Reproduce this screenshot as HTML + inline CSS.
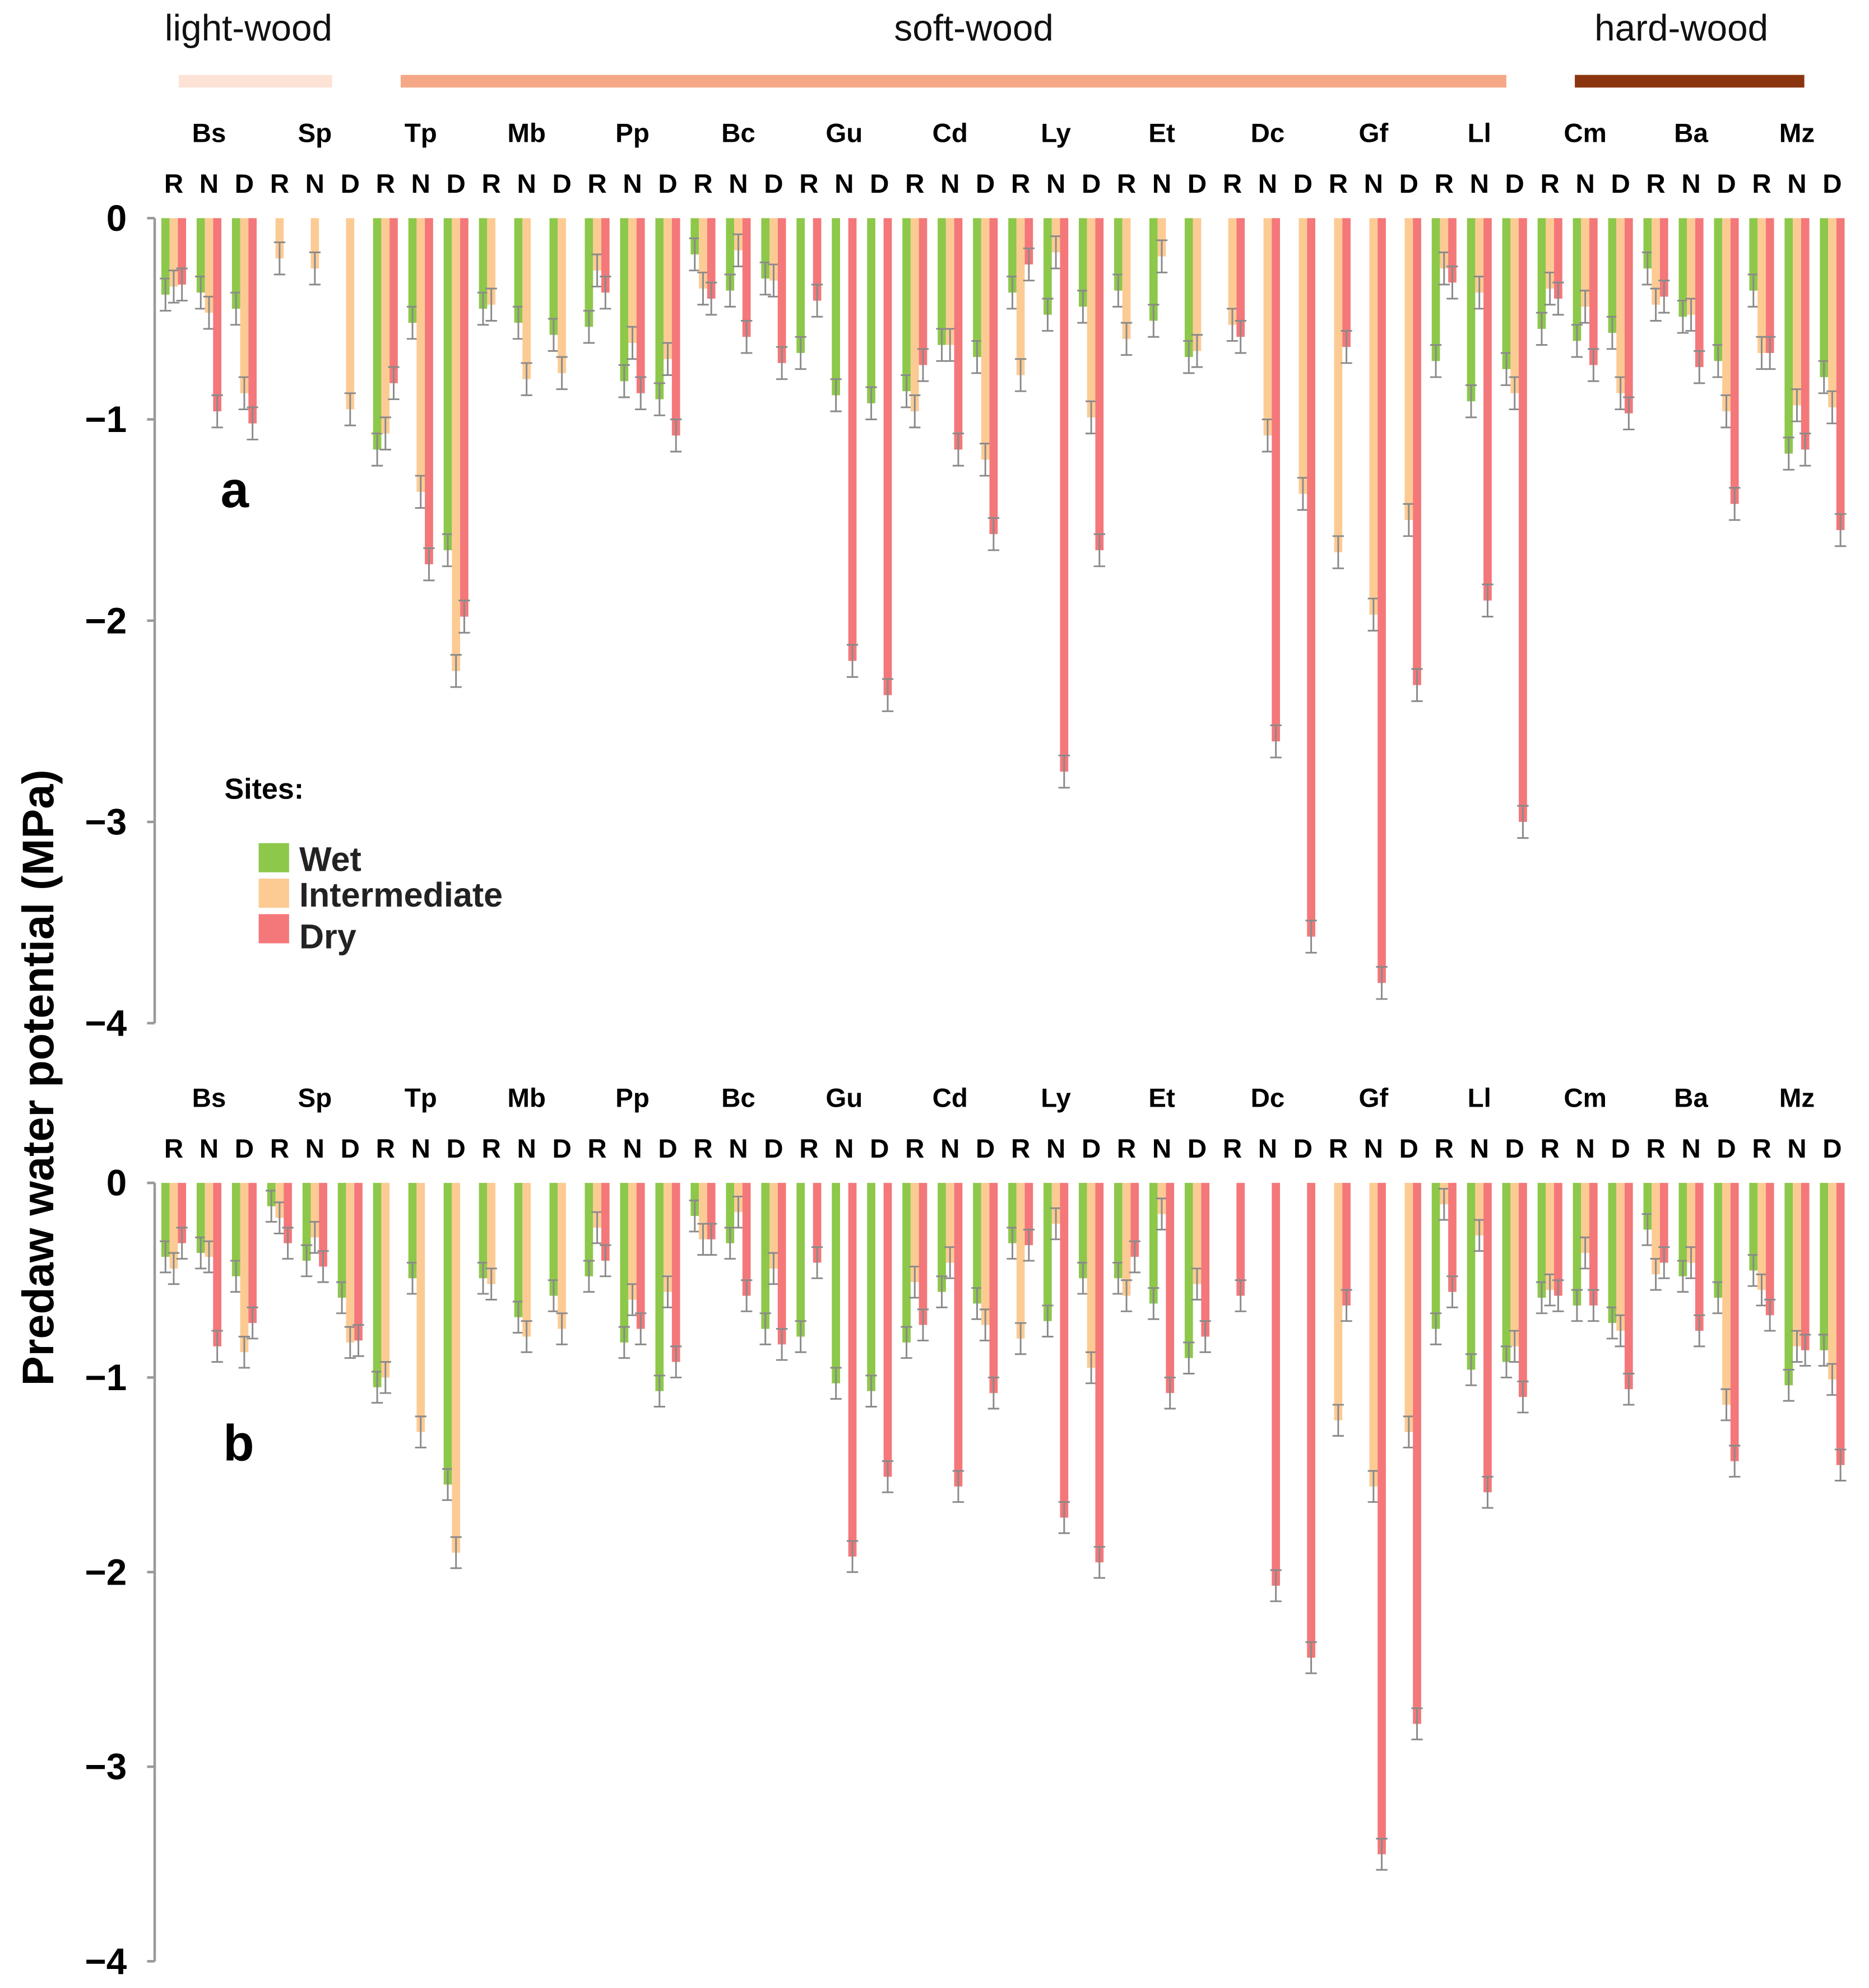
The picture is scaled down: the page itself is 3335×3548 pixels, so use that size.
<!DOCTYPE html>
<html><head><meta charset="utf-8">
<style>
html,body{margin:0;padding:0;background:#fff;}
svg{display:block;}
text{font-family:"Liberation Sans",Arial,sans-serif;}
</style></head>
<body>
<svg id="chart" xmlns="http://www.w3.org/2000/svg" width="3335" height="3548" viewBox="0 0 1474 1568">
  <g>
    <text x="196" y="32" font-size="29" text-anchor="middle" fill="#111">light-wood</text>
    <rect x="141" y="59" width="121" height="10" fill="#fde3d6"/>
    <text x="768" y="32" font-size="29" text-anchor="middle" fill="#111">soft-wood</text>
    <rect x="316" y="59" width="872" height="10" fill="#f5a886"/>
    <text x="1326" y="32" font-size="29" text-anchor="middle" fill="#111">hard-wood</text>
    <rect x="1242" y="59" width="181" height="10" fill="#8b3510"/>
  </g>
  <text transform="translate(42,850) rotate(-90)" font-size="35" font-weight="bold" text-anchor="middle" fill="#000">Predaw water potential (MPa)</text>
  <text x="174" y="400" font-size="40" font-weight="bold">a</text>
  <text x="176" y="1152" font-size="40" font-weight="bold">b</text>
  <g>
    <text x="177" y="630" font-size="23" font-weight="bold">Sites:</text>
    <rect x="204" y="665" width="24" height="23" fill="#8dc84a"/>
    <text x="236" y="687" font-size="27" font-weight="bold" fill="#222">Wet</text>
    <rect x="204" y="693" width="24" height="23" fill="#fccb94"/>
    <text x="236" y="715" font-size="27" font-weight="bold" fill="#222">Intermediate</text>
    <rect x="204" y="721" width="24" height="23" fill="#f4777a"/>
    <text x="236" y="748" font-size="27" font-weight="bold" fill="#222">Dry</text>
  </g>
  <g id="plots"></g>
</svg>
<script>
const species = ["Bs","Sp","Tp","Mb","Pp","Bc","Gu","Cd","Ly","Et","Dc","Gf","Ll","Cm","Ba","Mz"];
const subCats = ["R","N","D"];
const yTicks = [0,-1,-2,-3,-4];
const yTickLabels = ["0","\u22121","\u22122","\u22123","\u22124"];
const errHalf = 0.08;
const _ = null;
const aWet = [-0.38,-0.37,-0.45, _,_,_, -1.15,-0.52,-1.65, -0.45,-0.52,-0.58, -0.54,-0.81,-0.9, -0.18,-0.36,-0.3, -0.67,-0.88,-0.92, -0.86,-0.63,-0.69, -0.37,-0.48,-0.44, -0.36,-0.51,-0.69, _,_,_, _,_,_, -0.71,-0.91,-0.75, -0.55,-0.61,-0.57, -0.25,-0.49,-0.71, -0.36,-1.17,-0.79];
const aInt = [-0.34,-0.47,-0.87, -0.2,-0.25,-0.95, -1.07,-1.36,-2.25, -0.43,-0.8,-0.77, -0.26,-0.62,-0.7, -0.35,-0.16,-0.31, _,_,_, -0.96,-0.63,-1.2, -0.78,-0.17,-0.99, -0.6,-0.19,-0.66, -0.53,-1.08,-1.37, -1.66,-1.97,-1.5, -0.25,-0.37,-0.87, -0.35,-0.44,-0.87, -0.43,-0.48,-0.96, -0.67,-0.93,-0.94];
const aDry = [-0.33,-0.96,-1.02, _,_,_, -0.82,-1.72,-1.98, _,_,_, -0.37,-0.87,-1.08, -0.4,-0.59,-0.72, -0.41,-2.2,-2.37, -0.73,-1.15,-1.57, -0.23,-2.75,-1.65, _,_,_, -0.59,-2.6,-3.57, -0.64,-3.8,-2.32, -0.32,-1.9,-3.0, -0.4,-0.73,-0.97, -0.39,-0.74,-1.42, -0.67,-1.15,-1.55];
const bWet = [-0.38,-0.36,-0.48, -0.12,-0.4,-0.59, -1.05,-0.49,-1.55, -0.49,-0.69,-0.58, -0.48,-0.82,-1.07, -0.17,-0.31,-0.75, -0.79,-1.03,-1.07, -0.82,-0.56,-0.62, -0.31,-0.71,-0.49, -0.49,-0.62,-0.9, _,_,_, _,_,_, -0.75,-0.96,-0.92, -0.59,-0.63,-0.72, -0.24,-0.48,-0.59, -0.45,-1.04,-0.86];
const bInt = [-0.44,-0.38,-0.87, -0.18,-0.28,-0.82, -1.0,-1.28,-1.9, -0.52,-0.79,-0.75, -0.23,-0.6,-0.56, -0.29,-0.15,-0.44, _,_,_, -0.51,-0.41,-0.73, -0.8,-0.21,-0.95, -0.58,-0.16,-0.52, _,_,_, -1.22,-1.56,-1.28, -0.11,-0.27,-0.84, -0.55,-0.36,-0.76, -0.47,-0.41,-1.14, -0.55,-0.84,-1.01];
const bDry = [-0.31,-0.84,-0.72, -0.31,-0.43,-0.81, _,_,_, _,_,_, -0.4,-0.75,-0.92, -0.29,-0.58,-0.83, -0.41,-1.92,-1.51, -0.73,-1.56,-1.08, -0.32,-1.72,-1.95, -0.38,-1.08,-0.79, -0.58,-2.07,-2.44, -0.63,-3.45,-2.78, -0.56,-1.59,-1.1, -0.58,-0.63,-1.06, -0.41,-0.76,-1.43, -0.68,-0.86,-1.45];

const NS = "http://www.w3.org/2000/svg";
const root = document.getElementById("plots");
const colX0 = 137, colStep = 27.83, barW = 6.5, barOff = 6.5;
function xCol(i){ return colX0 + i*colStep; }
function mk(tag, attrs, parent){
  const e = document.createElementNS(NS, tag);
  for (const k in attrs) e.setAttribute(k, attrs[k]);
  parent.appendChild(e);
  return e;
}
function drawPanel(id, y0, pxPerUnit, spY, rndY, series){
  const g = mk("g", {}, root);
  
  
  const yS = v => y0 - v*pxPerUnit;
  const ax = mk("line", {x1:122,y1:yS(0),x2:122,y2:yS(-4),stroke:"#999","stroke-width":2}, g);
  
  
  yTicks.forEach((t, k) => {
    const tk = mk("line", {x1:116,y1:yS(t),x2:122,y2:yS(t),stroke:"#999","stroke-width":2}, g);
    
    
    const tl = mk("text", {x:100,y:yS(t)+10,"font-size":29,"font-weight":"bold","text-anchor":"end"}, g);
    tl.textContent = yTickLabels[k];
    
    
  });
  species.forEach((s, si) => {
    const st = mk("text", {x:xCol(si*3+1),y:spY,"font-size":21,"font-weight":"bold","text-anchor":"middle"}, g);
    st.textContent = s;
    
    
    subCats.forEach((c, ci) => {
      const ct = mk("text", {x:xCol(si*3+ci),y:rndY,"font-size":21,"font-weight":"bold","text-anchor":"middle"}, g);
      ct.textContent = c;
      
      
    });
  });
  series.forEach((ser, k) => {
    ser.vals.forEach((v, i) => {
      if (v === null) return;
      const cx = xCol(i) + (k-1)*barOff;
      const b = mk("rect", {x:cx-barW/2,y:yS(0),width:barW,height:yS(v)-yS(0),fill:ser.color}, g);
      
      
      const eTop = yS(v+errHalf), eBot = yS(v-errHalf);
      const el = mk("path", {d:`M${cx},${eTop}V${eBot}M${cx-4.5},${eTop}H${cx+4.5}M${cx-4.5},${eBot}H${cx+4.5}`,stroke:"#8a8a8a","stroke-width":1.3,fill:"none"}, g);
      
      
    });
  });
}
drawPanel("a", 172, 158.75, 112, 152, [
  {name:"wet", color:"#8dc84a", vals:aWet},
  {name:"intermediate", color:"#fccb94", vals:aInt},
  {name:"dry", color:"#f4777a", vals:aDry}
]);
drawPanel("b", 933, 153.5, 873, 913, [
  {name:"wet", color:"#8dc84a", vals:bWet},
  {name:"intermediate", color:"#fccb94", vals:bInt},
  {name:"dry", color:"#f4777a", vals:bDry}
]);
</script>
</body></html>
